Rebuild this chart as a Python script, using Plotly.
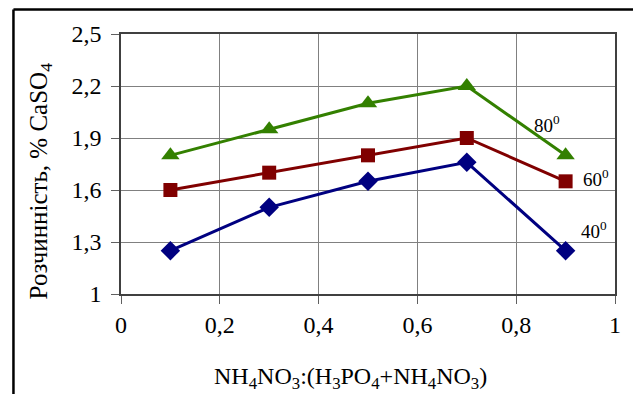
import plotly.graph_objects as go

x_vals = [0.1, 0.3, 0.5, 0.7, 0.9]
s40 = [1.25, 1.5, 1.65, 1.76, 1.25]
s60 = [1.6, 1.7, 1.8, 1.9, 1.65]
s80 = [1.8, 1.95, 2.1, 2.2, 1.8]
x_ticks = [0, 0.2, 0.4, 0.6, 0.8, 1]
x_tick_labels = ["0", "0,2", "0,4", "0,6", "0,8", "1"]
y_ticks = [1, 1.3, 1.6, 1.9, 2.2, 2.5]
y_tick_labels = ["1", "1,3", "1,6", "1,9", "2,2", "2,5"]

FONT = "Liberation Serif"

fig = go.Figure()
fig.add_trace(go.Scatter(x=x_vals, y=s40, mode="lines+markers", name="40",
                         line=dict(color="#000080", width=3),
                         marker=dict(symbol="diamond", size=15, color="#000080")))
fig.add_trace(go.Scatter(x=x_vals, y=s60, mode="lines+markers", name="60",
                         line=dict(color="#800000", width=3),
                         marker=dict(symbol="square", size=14, color="#800000")))
fig.add_trace(go.Scatter(x=x_vals, y=s80, mode="lines+markers", name="80",
                         line=dict(color="#338000", width=3),
                         marker=dict(symbol="triangle-up", size=16, color="#338000")))

fig.add_annotation(x=0.862, y=1.98, text="80<sup>0</sup>", showarrow=False,
                   font=dict(family=FONT, size=19, color="black"))
fig.add_annotation(x=0.962, y=1.67, text="60<sup>0</sup>", showarrow=False,
                   font=dict(family=FONT, size=19, color="black"))
fig.add_annotation(x=0.958, y=1.37, text="40<sup>0</sup>", showarrow=False,
                   font=dict(family=FONT, size=19, color="black"))
fig.add_annotation(xref="paper", yref="paper", x=0.465, y=-0.322, showarrow=False,
                   xanchor="center", yanchor="middle",
                   text="NH<sub>4</sub>NO<sub>3</sub>:(H<sub>3</sub>PO<sub>4</sub>+NH<sub>4</sub>NO<sub>3</sub>)",
                   font=dict(family=FONT, size=24, color="black"))
fig.add_annotation(xref="paper", yref="paper", x=-0.163, y=0.435, showarrow=False,
                   xanchor="center", yanchor="middle",
                   textangle=-90, text="Розчинність, % CaSO<sub>4</sub>",
                   font=dict(family=FONT, size=25, color="black"))

fig.add_shape(type="line", xref="paper", yref="paper", x0=-0.2177, x1=-0.2177, y0=1.094, y1=-0.5,
              line=dict(color="black", width=2.5))
fig.add_shape(type="line", xref="paper", yref="paper", x0=-0.2177, x1=1.2, y0=1.094, y1=1.094,
              line=dict(color="black", width=2.5))

fig.update_layout(
    width=633, height=394,
    margin=dict(l=121, r=16, t=34, b=100),
    paper_bgcolor="white", plot_bgcolor="white",
    showlegend=False,
    font=dict(family=FONT, size=22, color="black"),
)
fig.update_xaxes(range=[0, 1], tickvals=x_ticks, ticktext=x_tick_labels,
                 showgrid=True, gridcolor="#808080", gridwidth=1,
                 showline=True, linecolor="#404040", linewidth=1.5, mirror=True,
                 ticks="outside", ticklen=8, tickcolor="#606060",
                 tickfont=dict(family=FONT, size=24, color="black"), zeroline=False)
fig.update_yaxes(range=[1, 2.5], tickvals=y_ticks, ticktext=y_tick_labels,
                 showgrid=True, gridcolor="#808080", gridwidth=1,
                 showline=True, linecolor="#404040", linewidth=1.5, mirror=True,
                 ticks="outside", ticklen=8, tickcolor="#606060", ticklabelstandoff=5,
                 tickfont=dict(family=FONT, size=24, color="black"), zeroline=False)

fig.write_html("out.html")
